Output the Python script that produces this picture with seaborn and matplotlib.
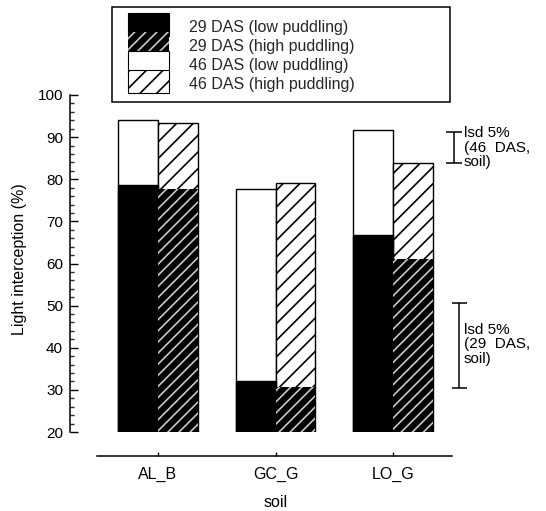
import matplotlib
matplotlib.use("Agg")
import matplotlib.pyplot as plt
from matplotlib.patches import Patch, Rectangle
from matplotlib.legend_handler import HandlerPatch
from matplotlib.ticker import MultipleLocator
import numpy as np
import pandas as pd
import seaborn as sns

# Light interception by soil, sampling date and puddling intensity
soils = ["AL_B", "GC_G", "LO_G"]
puddling = ["low", "high"]
das29_low = [78.7, 32.1, 66.8]
das29_high = [77.8, 30.6, 61.0]
das46_low = [94.0, 77.6, 91.6]
das46_high = [93.4, 79.1, 83.8]

# least significant differences (5%) and the level each bar starts from
lsd46 = 7.4
lsd46_base = 83.8
lsd29 = 20.3
lsd29_base = 30.4

legend_labels = [
    "29 DAS (low puddling)",
    "29 DAS (high puddling)",
    "46 DAS (low puddling)",
    "46 DAS (high puddling)",
]

sns.set_theme(style="white")
plt.rcParams["font.family"] = ["Liberation Sans", "DejaVu Sans"]
plt.rcParams["hatch.linewidth"] = 1.2

df46 = pd.DataFrame({
    "soil": soils * 2,
    "puddling": ["low"] * 3 + ["high"] * 3,
    "value": das46_low + das46_high,
})
df29 = pd.DataFrame({
    "soil": soils * 2,
    "puddling": ["low"] * 3 + ["high"] * 3,
    "value": das29_low + das29_high,
})

fig = plt.figure(figsize=(5.46, 5.11), dpi=100)
ax = fig.add_axes([70 / 546, 1 - 432 / 511, 382 / 546, 337 / 511])

pal = {"low": "white", "high": "white"}
sns.barplot(data=df46, x="soil", y="value", hue="puddling", order=soils,
            hue_order=puddling, palette=pal, width=0.68, saturation=1,
            errorbar=None, legend=False, ax=ax)
sns.barplot(data=df29, x="soil", y="value", hue="puddling", order=soils,
            hue_order=puddling, palette=pal, width=0.68, saturation=1,
            errorbar=None, legend=False, ax=ax)

c46_low, c46_high = ax.containers[0], ax.containers[1]
c29_low, c29_high = ax.containers[2], ax.containers[3]
for p in c46_low:
    p.set_facecolor("white"); p.set_edgecolor("black"); p.set_linewidth(1.0)
    p.set_zorder(2)
for p in c46_high:
    p.set_facecolor("white"); p.set_edgecolor("black"); p.set_linewidth(1.0)
    p.set_hatch("//"); p.set_zorder(2)
for p in c29_low:
    p.set_facecolor("black"); p.set_edgecolor("black"); p.set_linewidth(1.0)
    p.set_zorder(3)
for p in c29_high:
    p.set_facecolor("black"); p.set_edgecolor("#c8c8c8"); p.set_linewidth(0)
    p.set_hatch("///"); p.set_zorder(3)

ax.set_ylim(20, 100)
ax.set_xlim(-0.749, 2.502)
ax.yaxis.set_major_locator(MultipleLocator(10))
ax.yaxis.set_minor_locator(MultipleLocator(2))

for s in ["top", "right"]:
    ax.spines[s].set_visible(False)
for s in ["left", "bottom"]:
    ax.spines[s].set_color("black")
    ax.spines[s].set_linewidth(1.1)
ax.spines["bottom"].set_position(("outward", 17.3))
ax.spines["bottom"].set_bounds(-0.52, 2.5)

ax.tick_params(axis="y", which="major", direction="in", length=5.8, width=1.0,
               pad=5, labelsize=11, colors="black", left=True)
ax.tick_params(axis="y", which="minor", direction="in", length=3, width=1.0,
               left=True)
ax.tick_params(axis="x", which="major", direction="in", length=3.2, width=1.0,
               pad=8, labelsize=11.5, colors="black", bottom=True)

ax.set_xlabel("soil", fontsize=11.5, color="black")
ax.xaxis.set_label_coords(0.539, -0.208)
ax.xaxis.label.set_va("center")
ax.set_ylabel("Light interception (%)", fontsize=11.5, color="black")
ax.yaxis.set_label_coords(-0.131, 0.514)
ax.yaxis.label.set_va("center")

# lsd bars at the right of the plot
x46, x29, cap = 2.519, 2.565, 0.065
ax.vlines(x46, lsd46_base, lsd46_base + lsd46, color="black", lw=1.1, clip_on=False)
ax.hlines([lsd46_base, lsd46_base + lsd46], x46 - cap, x46 + cap, color="black",
          lw=1.1, clip_on=False)
ax.vlines(x29, lsd29_base, lsd29_base + lsd29, color="black", lw=1.1, clip_on=False)
ax.hlines([lsd29_base, lsd29_base + lsd29], x29 - cap, x29 + cap, color="black",
          lw=1.1, clip_on=False)
ax.text(2.604, lsd46_base + lsd46 + 1.4, "lsd 5%\n(46  DAS,\nsoil)", fontsize=11,
        ha="left", va="top", linespacing=1.05, color="black", clip_on=False)
ax.text(2.604, lsd29_base + lsd29 - 4.8, "lsd 5%\n(29  DAS,\nsoil)", fontsize=11,
        ha="left", va="top", linespacing=1.05, color="black", clip_on=False)


# legend swatches fill the whole handle box so they stack without gaps
def full_box(legend, orig_handle, xdescent, ydescent, width, height, fontsize):
    return Rectangle((-xdescent, -ydescent), width, height + ydescent)


handles = [
    Patch(facecolor="black", edgecolor="black", linewidth=0.8),
    Patch(facecolor="black", edgecolor="#c8c8c8", hatch="///", linewidth=0),
    Patch(facecolor="white", edgecolor="black", linewidth=0.8),
    Patch(facecolor="white", edgecolor="black", hatch="//", linewidth=0.8),
]
fig.legend(handles, legend_labels, loc="upper left",
           bbox_to_anchor=(128 / 546, 1 - 17.2 / 511), frameon=False,
           fontsize=11.5, handlelength=2.56, handleheight=1.45,
           labelspacing=0.0, handletextpad=1.25, borderpad=0, borderaxespad=0,
           handler_map={Patch: HandlerPatch(patch_func=full_box)})
fig.add_artist(Rectangle((112 / 546, 1 - 102 / 511), 338 / 546, 95 / 511,
                         transform=fig.transFigure, fill=False,
                         edgecolor="black", linewidth=1.1))

fig.savefig("out.png", dpi=100, facecolor="white")
